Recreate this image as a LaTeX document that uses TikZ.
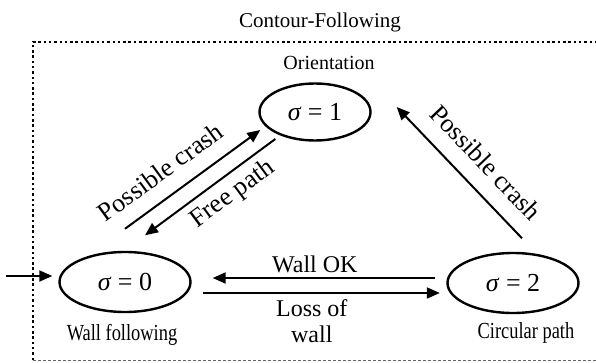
\documentclass[tikz,border=0pt]{standalone}
\usepackage{fontspec}
\setmainfont{Liberation Serif}
\newfontfamily\narrowrm[FakeStretch=0.8]{Liberation Serif}
\usetikzlibrary{shapes.geometric, positioning, arrows.meta, calc}

\begin{document}
\begin{tikzpicture}[
    x=1pt, y=1pt,
    stt/.style={
        draw=black, line width=2.4pt, ellipse, inner sep=0pt,
        minimum width=131pt, minimum height=60pt,
        font=\fontsize{26}{28}\selectfont
    },
    arw/.style={
        draw=black, line width=2pt, -{Triangle[length=13pt, width=11pt]}
    },
    tag/.style={font=\narrowrm\fontsize{23}{25}\selectfont, inner sep=0pt},
    lbl/.style={font=\fontsize{26}{28}\selectfont, inner sep=0pt},
    wlbl/.style={font=\fontsize{24}{26}\selectfont, inner sep=0pt, align=center},
    box/.style={line width=2.5pt, dash pattern=on 2.5pt off 2.8pt}
]
\useasboundingbox (0,0) rectangle (596,362);

% === Contour-Following frame ===
\node[font=\fontsize{21}{23}\selectfont, anchor=base] (ttl) at (320,334) {Contour-Following};
\draw[box] (33,2) -- (33,320) -- (596,320);
\draw[line width=0.8pt, black!60, dash pattern=on 3pt off 2pt] (33,2) -- (596,2);

% === States ===
\node[stt] (s0) at (125,80) {\textit{σ} = 0};
\node[stt, minimum width=111pt, minimum height=57pt] (s1) at (315,250) {\textit{σ} = 1};
\node[stt] (s2) at (513,79) {\textit{σ} = 2};

% State names
\node[tag, below=11pt of s0, xshift=-3pt] (n0) {Wall following};
\node[font=\fontsize{20}{22}\selectfont, inner sep=0pt, above=12pt of s1, xshift=14pt] (n1) {Orientation};
\node[tag, below=8pt of s2, xshift=13pt] (n2) {Circular path};

% === Transitions ===
\coordinate (entry) at (6,86);
\draw[arw] (entry) -- ([xshift=-6pt]entry -| s0.west);

% sigma 0 <-> sigma 1
\draw[arw] ([yshift=22pt]s0.north) -- node[lbl, sloped, above=15pt, pos=0.37] {Possible crash} ([shift={(2pt,-18pt)}]s1.west);
\draw[arw] ([shift={(17pt,-27pt)}]s1.west) -- node[lbl, sloped, below=6.5pt, pos=0.415] {Free path} ([shift={(20pt,15.5pt)}]s0.north);

% sigma 2 -> sigma 1
\draw[arw] ([shift={(9pt,13.5pt)}]s2.north) -- node[lbl, sloped, above=16pt, pos=0.44] {Possible crash} ([shift={(25pt,5pt)}]s1.east);

% sigma 0 <-> sigma 2
\draw[arw] ([shift={(-11.5pt,5pt)}]s2.west) -- node[wlbl, above=4.5pt, pos=0.54] {Wall OK} ([shift={(21pt,4pt)}]s0.east);
\draw[arw] ([shift={(11pt,-11pt)}]s0.east) -- node[wlbl, below=5.5pt, pos=0.46] {Loss of\\wall} ([shift={(-6.5pt,-10pt)}]s2.west);

\end{tikzpicture}
\end{document}
